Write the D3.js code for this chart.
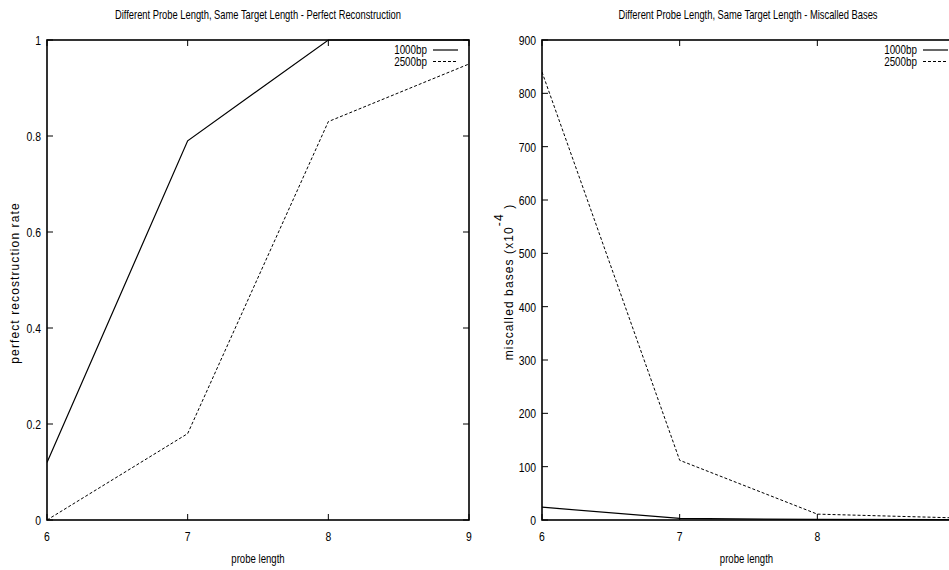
<!DOCTYPE html>
<html>
<head>
<meta charset="utf-8">
<script src="https://cdn.jsdelivr.net/npm/d3@7"></script>
<style>
  html, body { margin: 0; padding: 0; background: #fff; }
  svg { display: block; }
  text { font-family: "Liberation Sans", Arial, sans-serif; fill: #000; }
</style>
</head>
<body>
<svg id="chart" width="949" height="570"></svg>
<script>
// Probe lengths on the x axis
const probeLengths = [6, 7, 8, 9];

// Perfect reconstruction rate per probe length
const reconRate1000 = [0.12, 0.79, 1.0, 1.0];
const reconRate2500 = [0.0, 0.18, 0.83, 0.95];

// Miscalled bases (x10^-4) per probe length
const miscalled1000 = [24, 3, 1, 0.5];
const miscalled2500 = [840, 112, 11, 4];

const seriesNames = ["1000bp", "2500bp"];
const reconTicks = [0, 0.2, 0.4, 0.6, 0.8, 1];
const miscalledTicks = [0, 100, 200, 300, 400, 500, 600, 700, 800, 900];

const W = 949;
const svg = d3.select("#chart");

// condensed text: regular face squeezed horizontally
function narrow(g, x, y, txt, size, anchor, sx) {
  return g.append("text")
    .attr("transform", `translate(${x},${y}) scale(${sx},1)`)
    .attr("text-anchor", anchor)
    .style("font-size", size + "px")
    .text(txt);
}

function panel(opts) {
  const g = svg.append("g");
  const x = d3.scaleLinear().domain([6, 9]).range([opts.left, opts.right]);
  const y = d3.scaleLinear().domain(opts.yDomain).range([opts.bottom, opts.top]);

  // title
  narrow(g, opts.titleX, 19, opts.title, 12, "middle", 0.78);

  // inward ticks on all four sides
  const tl = 6;
  const ticks = g.append("g").attr("stroke", "#000").attr("stroke-width", 1);
  probeLengths.forEach(v => {
    ticks.append("line").attr("x1", x(v)).attr("x2", x(v)).attr("y1", opts.bottom).attr("y2", opts.bottom - tl);
    ticks.append("line").attr("x1", x(v)).attr("x2", x(v)).attr("y1", opts.top).attr("y2", opts.top + tl);
  });
  opts.yTicks.forEach(v => {
    ticks.append("line").attr("x1", opts.left).attr("x2", opts.left + tl).attr("y1", y(v)).attr("y2", y(v));
    ticks.append("line").attr("x1", opts.right).attr("x2", opts.right - tl).attr("y1", y(v)).attr("y2", y(v));
  });

  // tick labels (only those that fall inside the page)
  probeLengths.filter(v => x(v) < W - 4).forEach(v => {
    narrow(g, x(v), opts.bottom + 21, v, 13, "middle", 0.8);
  });
  opts.yTicks.forEach(v => {
    narrow(g, opts.left - 6, y(v) + 5, opts.fmt(v), 13, "end", 0.8);
  });

  // axis titles
  narrow(g, (opts.left + Math.min(opts.right, W)) / 2 + opts.xLabelShift, 563, "probe length", 12, "middle", 0.8);

  const yl = g.append("text")
    .attr("transform", `translate(${opts.yLabelX},${opts.yLabelY}) rotate(-90)`)
    .attr("text-anchor", "middle")
    .style("font-size", "12px")
    .style("letter-spacing", "1.1px");
  yl.append("tspan").text(opts.yLabel);
  if (opts.yLabelSup) {
    yl.append("tspan").attr("dy", -10).text(opts.yLabelSup);
    yl.append("tspan").attr("dy", 10).text(opts.yLabelTail);
  }

  // data lines
  const line = d3.line().x((d, i) => x(probeLengths[i])).y(d => y(d));
  const clipId = "clip" + opts.id;
  svg.append("clipPath").attr("id", clipId).append("rect")
    .attr("x", opts.left).attr("y", opts.top - 1)
    .attr("width", opts.right - opts.left).attr("height", opts.bottom - opts.top + 2);
  g.append("path").datum(opts.s1).attr("d", line)
    .attr("fill", "none").attr("stroke", "#000").attr("stroke-width", 1.2)
    .attr("clip-path", `url(#${clipId})`);
  g.append("path").datum(opts.s2).attr("d", line)
    .attr("fill", "none").attr("stroke", "#000").attr("stroke-width", 1)
    .attr("stroke-dasharray", "3,2")
    .attr("clip-path", `url(#${clipId})`);

  // frame
  g.append("rect").attr("x", opts.left).attr("y", opts.top)
    .attr("width", opts.right - opts.left).attr("height", opts.bottom - opts.top)
    .attr("fill", "none").attr("stroke", "#000").attr("stroke-width", 1.6);

  // legend
  seriesNames.forEach((name, i) => {
    const ly = opts.top + 10 + i * 11.5;
    narrow(g, opts.legendX, ly + 4, name, 12, "end", 0.82);
    g.append("line").attr("x1", opts.legendX + 6).attr("x2", opts.legendX + 31)
      .attr("y1", ly).attr("y2", ly)
      .attr("stroke", "#000").attr("stroke-width", i === 0 ? 1.2 : 1)
      .attr("stroke-dasharray", i === 0 ? null : "3,2");
  });
}

panel({
  id: "A",
  title: "Different Probe Length, Same Target Length - Perfect Reconstruction",
  titleX: 258,
  left: 47, right: 469, top: 40, bottom: 520,
  yDomain: [0, 1], yTicks: reconTicks,
  fmt: v => (v === 0 || v === 1) ? String(v) : v.toFixed(1),
  yLabel: "perfect recostruction rate", yLabelX: 19, yLabelY: 283,
  xLabelShift: 0,
  s1: reconRate1000, s2: reconRate2500,
  legendX: 427
});

panel({
  id: "B",
  title: "Different Probe Length, Same Target Length - Miscalled Bases",
  titleX: 748,
  left: 542, right: 955, top: 40, bottom: 520,
  yDomain: [0, 900], yTicks: miscalledTicks,
  fmt: v => String(v),
  yLabel: "miscalled bases (x10", yLabelSup: "-4", yLabelTail: " )",
  yLabelX: 513, yLabelY: 282,
  xLabelShift: 1,
  s1: miscalled1000, s2: miscalled2500,
  legendX: 917
});
</script>
</body>
</html>
